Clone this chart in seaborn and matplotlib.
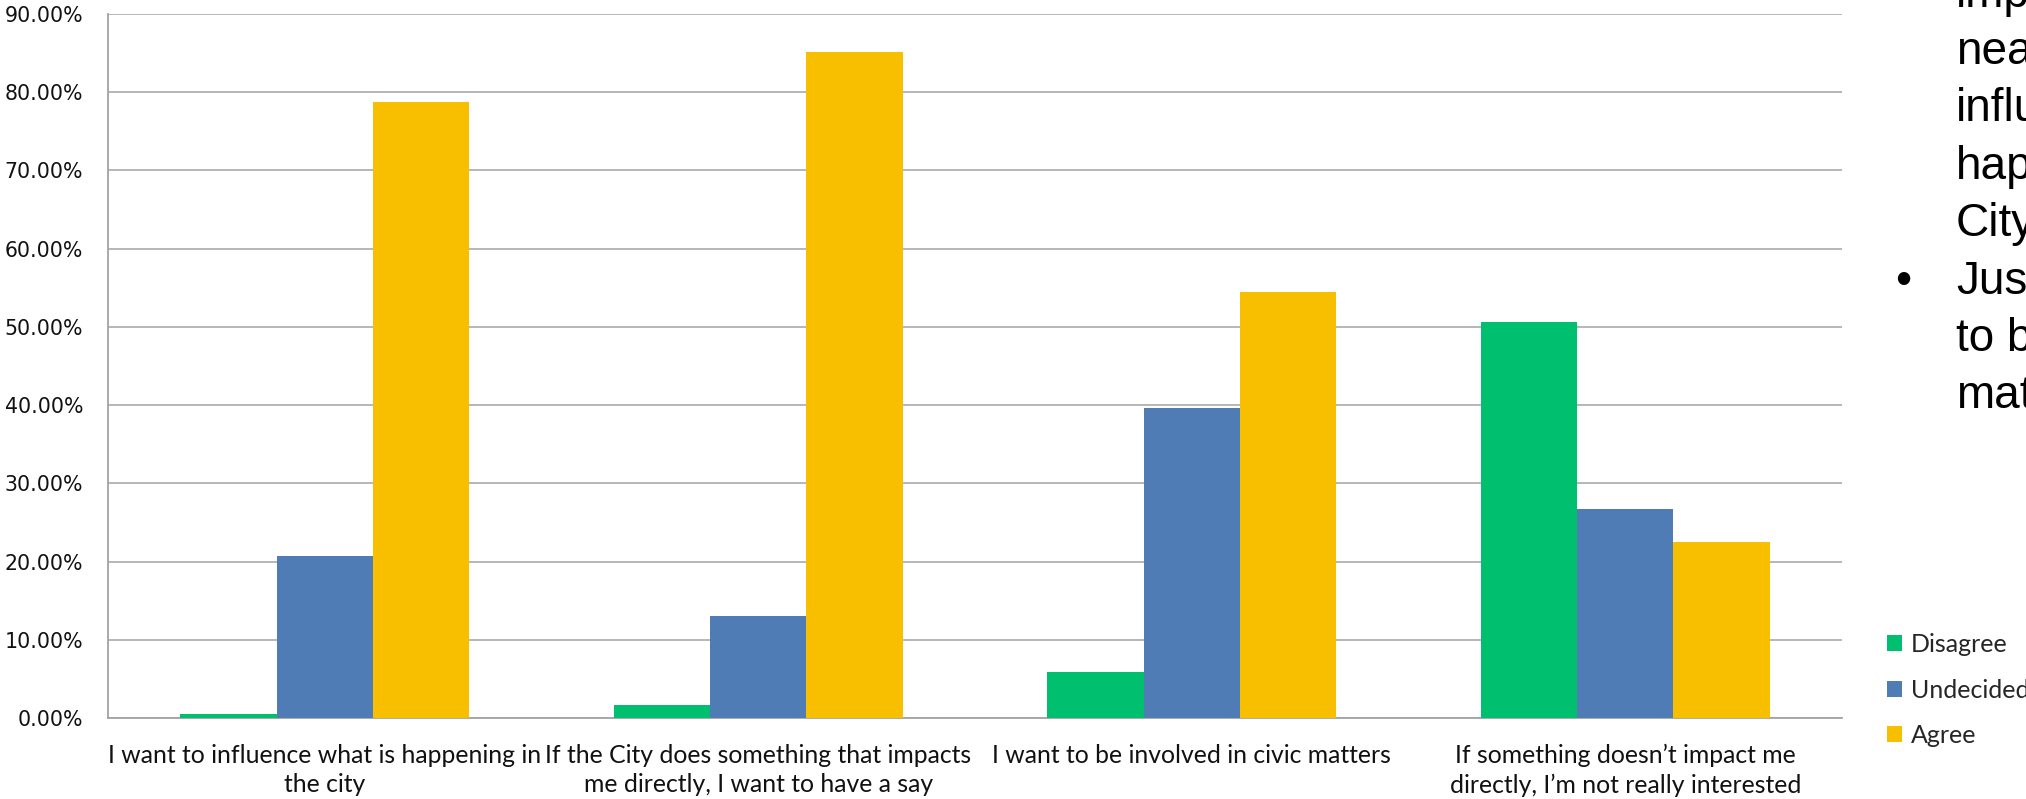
import matplotlib
matplotlib.use("Agg")
import matplotlib.pyplot as plt
import seaborn as sns
import pandas as pd
from matplotlib.ticker import FuncFormatter, FixedLocator

# ---- data -------------------------------------------------------------
statements = [
    "I want to influence what is happening in\nthe city",
    "If the City does something that impacts\nme directly, I want to have a say",
    "I want to be involved in civic matters",
    "If something doesn\u2019t impact me\ndirectly, I\u2019m not really interested",
]
responses = ["Disagree", "Undecided", "Agree"]
disagree = [0.5, 1.7, 5.85, 50.6]
undecided = [20.75, 13.0, 39.6, 26.7]
agree = [78.75, 85.2, 54.5, 22.5]
y_ticks = [0, 10, 20, 30, 40, 50, 60, 70, 80, 90]
colors = ["#00BF6F", "#4F7CB5", "#F8BE00"]

# bullet text running in from the slide on the right
side_lines = ["important", "nearly", "influence", "happening", "City",
              "Just", "to be", "matters"]
bullet_line = 5

# ---- long-form table for seaborn --------------------------------------
rows = []
for resp, vals in zip(responses, [disagree, undecided, agree]):
    for stmt, v in zip(statements, vals):
        rows.append({"statement": stmt, "response": resp, "share": v})
df = pd.DataFrame(rows)

# ---- figure -----------------------------------------------------------
sns.set_style("white")
plt.rcParams["font.family"] = ["DejaVu Sans"]

W, H = 2026, 799
fig = plt.figure(figsize=(W / 100, H / 100), dpi=100)
ax = fig.add_axes([108 / W, 1 - 718 / H, (1842 - 108) / W, (718 - 14) / H])

sns.barplot(
    data=df, x="statement", y="share", hue="response",
    order=statements, hue_order=responses,
    palette=colors, saturation=1, width=2 / 3,
    linewidth=0, errorbar=None, ax=ax, zorder=3,
)

grid_col = "#A3A3A3"
ax.set_xlim(-0.5, len(statements) - 0.5)
ax.set_ylim(0, 90)
ax.set_axisbelow(True)
ax.yaxis.grid(True, color=grid_col, linewidth=1.1)
ax.xaxis.grid(False)

for side in ["top", "right"]:
    ax.spines[side].set_visible(False)
for side in ["left", "bottom"]:
    ax.spines[side].set_color(grid_col)
    ax.spines[side].set_linewidth(1.3)

ax.set_xlabel("")
ax.set_ylabel("")

# y axis
ax.yaxis.set_major_locator(FixedLocator(y_ticks))
ax.yaxis.set_major_formatter(FuncFormatter(lambda v, _: f"{v:.2f}%"))
ax.tick_params(axis="y", which="major", direction="out", length=5.5,
               width=1.1, color=grid_col, pad=12.5, labelsize=14.8,
               labelcolor="#111111")

# x axis: labels at the centres, tick marks on category boundaries
ax.set_xticks(range(len(statements)))
ax.set_xticklabels(statements, fontfamily="Lato", fontsize=17.8,
                   color="#111111", linespacing=1.35)
ax.tick_params(axis="x", which="major", length=0, pad=18.5)
ax.set_xticks([i - 0.5 for i in range(len(statements) + 1)], minor=True)
ax.tick_params(axis="x", which="minor", direction="out", length=5.5,
               width=1.1, color=grid_col)

# legend on the right
handles, labels = ax.get_legend_handles_labels()
ax.get_legend().remove()
fig.legend(
    handles, labels, loc="center left",
    bbox_to_anchor=(1887 / W, 1 - 690 / H),
    frameon=False, borderpad=0, borderaxespad=0,
    handlelength=0.6, handleheight=0.6, handletextpad=0.35,
    labelspacing=0.9,
    prop={"family": "Lato", "size": 18},
)

# bullet text at the right edge
x_text = 1956 / W
base0 = 64
step = 57.4
for i, line in enumerate(side_lines):
    yb = base0 + (i - 1) * step
    fig.text(x_text, 1 - yb / H, line, fontfamily="Liberation Sans",
             fontsize=33, va="baseline", ha="left", color="black")
    if i == bullet_line:
        fig.text(1903 / W, 1 - yb / H, "\u2022", fontfamily="Liberation Sans",
                 fontsize=33, va="baseline", ha="center", color="black")

fig.savefig("out.png", dpi=100)
